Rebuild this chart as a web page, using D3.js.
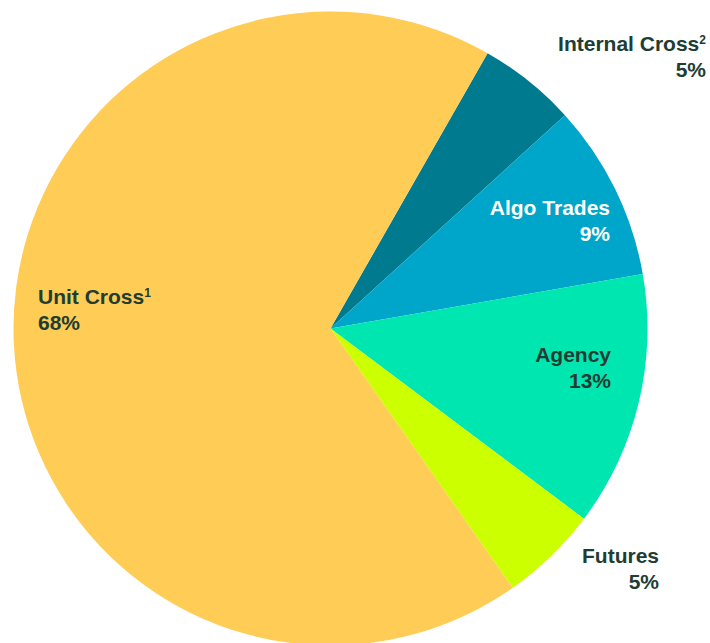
<!DOCTYPE html>
<html><head><meta charset="utf-8">
<script src="https://cdn.jsdelivr.net/npm/d3@7"></script>
<style>body{margin:0;background:#fff}svg{display:block}text{font-family:"Liberation Sans",Arial,sans-serif;font-weight:bold;font-size:21px}</style>
</head><body>
<svg id="c" width="710" height="643"></svg>
<script>
const categories = ["Internal Cross", "Algo Trades", "Agency", "Futures", "Unit Cross"];
const supers = ["2", "", "", "", "1"];
const values = [5, 9, 13, 5, 68];
const colors = ["#007A8E", "#00A6C9", "#00E6B0", "#CCFF00", "#FFCC55"];
const textColors = ["#213D33", "#FFFFFF", "#213D33", "#213D33", "#213D33"];

const svg = d3.select("#c");
const cx = 330.5, cy = 328.5, r = 317;
const startDeg = 29.7;
const pie = d3.pie().sort(null).value(d => d.v)
  .startAngle(startDeg * Math.PI / 180).endAngle(startDeg * Math.PI / 180 + 2 * Math.PI);
const data = categories.map((c, i) => ({c, v: values[i], s: supers[i], col: colors[i], tc: textColors[i]}));
const arcs = pie(data);
const arc = d3.arc().innerRadius(0).outerRadius(r);
const g = svg.append("g").attr("transform", `translate(${cx},${cy})`);
g.selectAll("path").data(arcs).join("path").attr("d", arc).attr("fill", d => d.data.col);

const labelPos = [
  {x: 706, y: 51, anchor: "end"},
  {x: 610, y: 215, anchor: "end"},
  {x: 611, y: 362, anchor: "end"},
  {x: 659, y: 563, anchor: "end"},
  {x: 38, y: 304, anchor: "start"}
];
arcs.forEach((a, i) => {
  const p = labelPos[i];
  const t = svg.append("text").attr("x", p.x).attr("y", p.y).attr("text-anchor", p.anchor).attr("fill", a.data.tc);
  t.append("tspan").text(a.data.c);
  if (a.data.s) t.append("tspan").attr("font-size", "12px").attr("dy", "-7").text(a.data.s);
  svg.append("text").attr("x", p.x).attr("y", p.y + 26).attr("text-anchor", p.anchor).attr("fill", a.data.tc)
    .text(a.data.v + "%");
});
</script>
</body></html>
